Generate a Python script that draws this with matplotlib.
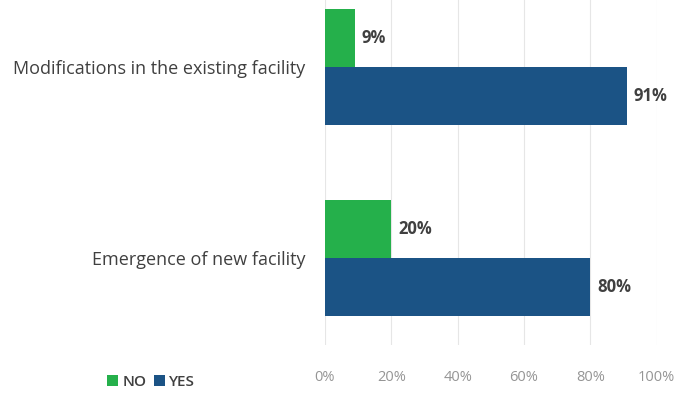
import matplotlib.pyplot as plt
import numpy as np
from matplotlib.ticker import PercentFormatter

# Survey answers, percent of respondents
categories = ['Emergence of new facility', 'Modifications in the existing facility']
no_values = [20, 9]
yes_values = [80, 91]
xticks = [0, 20, 40, 60, 80, 100]

green = '#25b04b'
blue = '#1b5385'
text_grey = '#404040'

plt.rcParams['font.family'] = ['Open Sans', 'DejaVu Sans']

fig = plt.figure(figsize=(6.87, 3.98), dpi=100)
ax = fig.add_axes([0.473, 0.133, 0.483, 0.867])

y = np.arange(len(categories))
h = 0.304

bars_no = ax.barh(y + h / 2, no_values, height=h, color=green, label='NO')
bars_yes = ax.barh(y - h / 2, yes_values, height=h, color=blue, label='YES')

for bars in (bars_no, bars_yes):
    for b in bars:
        w = b.get_width()
        ax.text(w + 2.0, b.get_y() + b.get_height() / 2, f'{w:.0f}%',
                va='center', ha='left', fontsize=12, fontweight='bold', color=text_grey)

ax.set_xlim(0, 100)
ax.set_ylim(-0.455, 1.35)
ax.set_xticks(xticks)
ax.xaxis.set_major_formatter(PercentFormatter(decimals=0))
ax.set_yticks(y)
ax.set_yticklabels(categories, fontsize=13, color=text_grey)
ax.tick_params(axis='y', length=0, pad=14)
ax.tick_params(axis='x', length=0, pad=18, labelsize=10.5, labelcolor='#959595')

ax.grid(axis='x', color='#e6e6e6', linewidth=0.8)
ax.set_axisbelow(True)
for s in ax.spines.values():
    s.set_visible(False)

fig.legend(handles=[bars_no, bars_yes], labels=['NO', 'YES'], loc='center left',
           bbox_to_anchor=(0.136, 0.04), ncol=2, frameon=False,
           prop={'size': 11, 'weight': 'semibold'},
           handlelength=0.7, handleheight=0.7, handletextpad=0.3, columnspacing=0.5,
           labelcolor=text_grey)

fig.savefig('out.png', dpi=100)
